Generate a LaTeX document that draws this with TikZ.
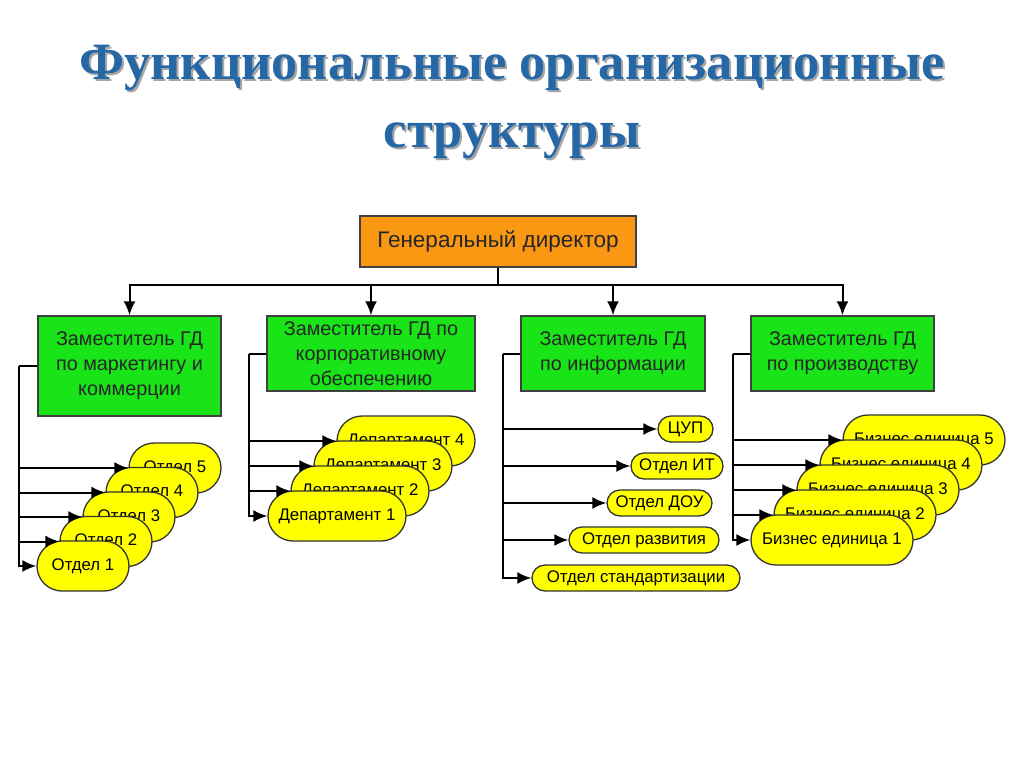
\documentclass[tikz,border=0pt]{standalone}
\usepackage{fontspec}
\setmainfont{Liberation Serif}
\newfontfamily\arialfont{Liberation Sans}
\usetikzlibrary{arrows.meta}

\definecolor{titleblue}{RGB}{38,104,166}
\definecolor{dirorange}{RGB}{250,152,20}
\definecolor{zamgreen}{RGB}{24,228,24}
\definecolor{unityellow}{RGB}{255,255,0}

\begin{document}
\begin{tikzpicture}[x=1pt,y=-1pt,
  titletext/.style={text=titleblue, font=\bfseries\fontsize{52.5}{56}\selectfont},
  titleshadow/.style={text=black!35, font=\bfseries\fontsize{52.5}{56}\selectfont},
  dir/.style={draw=black!75, fill=dirorange, line width=1.4pt, minimum width=276pt, minimum height=51pt, text=black!85, font=\arialfont\fontsize{22.5}{26}\selectfont},
  zam/.style={draw=black!75, fill=zamgreen, line width=1.4pt, align=center, inner sep=0pt, text=black!85, font=\arialfont\fontsize{19.8}{25}\selectfont},
  unit/.style={draw=black!80, fill=unityellow, line width=1.3pt, rounded corners=#1, minimum height=2*#1, inner sep=0pt, font=\arialfont\fontsize{16.8}{18}\selectfont},
  link/.style={line width=2pt, -{Latex[length=14pt,width=12pt]}},
  trunk/.style={line width=2pt}]
\useasboundingbox[fill=white] (0,0) rectangle (1024,767);

\node[titleshadow, anchor=base] (shadow1) at (514,82) {Функциональные организационные};
\node[titletext, anchor=base] (title1) at (512,80) {Функциональные организационные};
\node[titleshadow, anchor=base] (shadow2) at (514,150) {структуры};
\node[titletext, anchor=base] (title2) at (512,148) {структуры};

\node[dir] (gd) at (498,241.5) {Генеральный директор};
\node[zam, minimum width=183pt, minimum height=100pt] (zam1) at (129.5,366) {Заместитель ГД\\по маркетингу и\\коммерции};
\node[zam, minimum width=208pt, minimum height=75pt] (zam2) at (371,353.5) {Заместитель ГД по\\корпоративному\\обеспечению};
\node[zam, minimum width=184pt, minimum height=75pt] (zam3) at (613,353.5) {Заместитель ГД\\по информации};
\node[zam, minimum width=183pt, minimum height=75pt] (zam4) at (842.5,353.5) {Заместитель ГД\\по производству};

\coordinate (bus) at (498,285);
\draw[trunk] (gd) -- (bus);
\foreach \i in {1,...,4}
  \draw[link] (bus) -| (zam\i);

\coordinate (t1) at ([xshift=-18pt]zam1.west);
\coordinate (t2) at ([xshift=-17pt]zam2.west);
\coordinate (t3) at ([xshift=-17pt]zam3.west);
\coordinate (t4) at ([xshift=-17pt]zam4.west);
\foreach \i in {1,...,4}
  \draw[trunk] (zam\i.west) -- (t\i);

\foreach \k in {5,4,...,1}
  \node[unit=25pt, minimum width=92pt] (otd\k) at ({83+23*(\k-1)},{566-24.5*(\k-1)}) {Отдел \k};
\foreach \k in {4,3,...,1}
  \node[unit=25pt, minimum width=138pt] (dep\k) at ({337+23*(\k-1)},{516-25*(\k-1)}) {Департамент \k};
\foreach \name/\w/\cx/\cy/\txt in {cup/55/685.5/429/ЦУП, it/92/677/466/Отдел ИТ, dou/105/659.5/503/Отдел ДОУ, razv/150/644/540/Отдел развития, std/208/636/578/Отдел стандартизации}
  \node[unit=13pt, minimum width=\w pt] (\name) at (\cx,\cy) {\txt};
\foreach \k in {5,4,...,1}
  \node[unit=25pt, minimum width=162pt] (be\k) at ({832+23*(\k-1)},{540-25*(\k-1)}) {Бизнес единица \k};

\foreach \k in {1,...,5}
  \draw[link] (t1) |- (otd\k);
\foreach \k in {1,...,4}
  \draw[link] (t2) |- (dep\k);
\foreach \name in {cup,it,dou,razv,std}
  \draw[link] (t3) |- (\name);
\foreach \k in {1,...,5}
  \draw[link] (t4) |- (be\k);
\end{tikzpicture}
\end{document}
